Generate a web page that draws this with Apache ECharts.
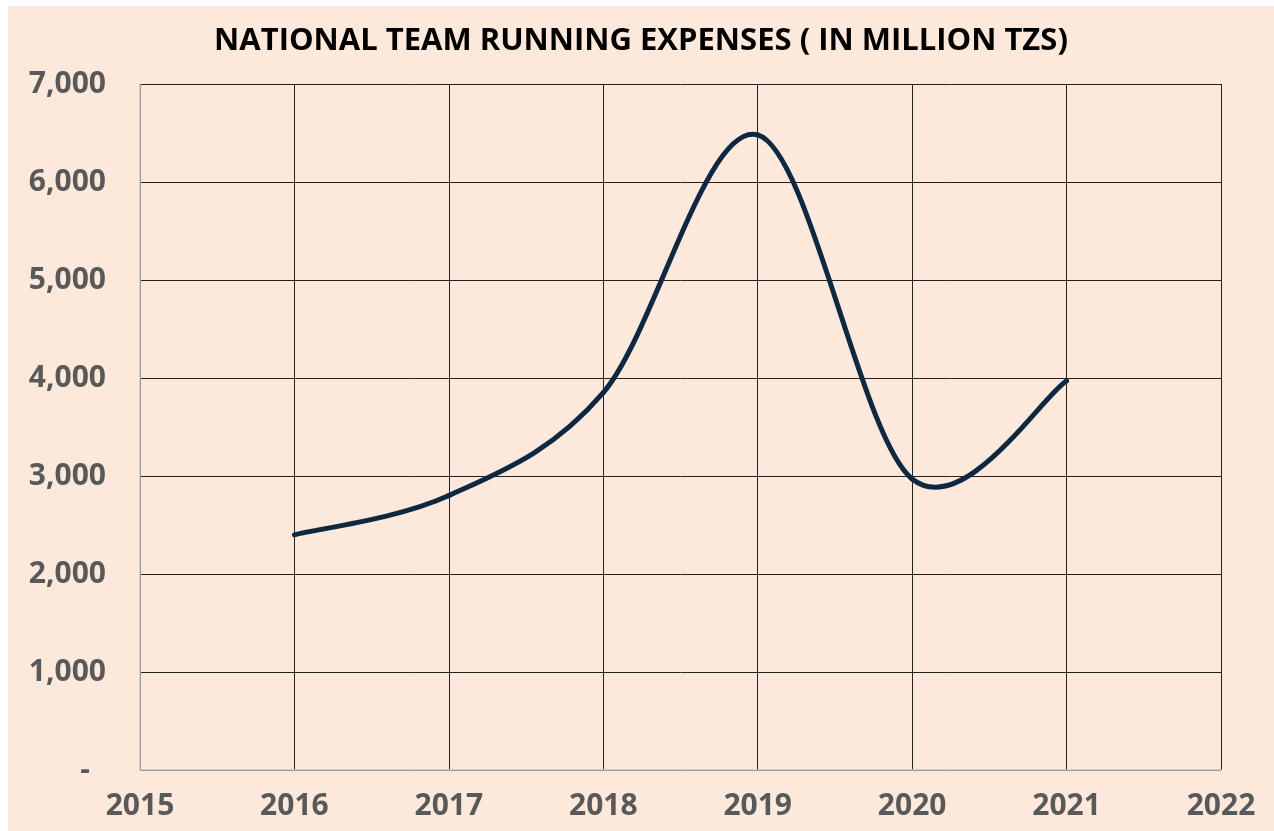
<!DOCTYPE html>
<html><head><meta charset="utf-8">
<script src="https://cdn.jsdelivr.net/npm/echarts@6/dist/echarts.min.js"></script>
<style>html,body{margin:0;padding:0;background:#ffffff;width:1274px;height:831px;overflow:hidden;}#c{position:absolute;left:8px;top:6px;width:1266px;height:825px;}</style>
</head><body><div id="c"></div>
<script>
const titleText = 'NATIONAL TEAM RUNNING EXPENSES ( IN MILLION TZS)';
const years = [2016, 2017, 2018, 2019, 2020, 2021];
const expenses = [2400, 2800, 3850, 6480, 2970, 3970];
const xTicks = [2015, 2016, 2017, 2018, 2019, 2020, 2021, 2022];
const yMax = 7000, yStep = 1000;

const chart = echarts.init(document.getElementById('c'));
const clampIdx = k => Math.max(0, Math.min(years.length - 1, k));
chart.setOption({
  backgroundColor: '#fde9dc',
  title: {
    text: titleText, left: 'center', top: 15,
    textStyle: {fontFamily: 'Open Sans', fontWeight: 'bold', fontSize: 31, color: '#000'}
  },
  grid: {left: 132, right: 53, top: 78, bottom: 61},
  xAxis: {
    type: 'value', min: xTicks[0], max: xTicks[xTicks.length - 1], interval: 1,
    axisLine: {show: true, lineStyle: {color: '#c4c4c4', width: 1.5}},
    axisTick: {show: false},
    splitLine: {show: true, lineStyle: {color: '#222', width: 1}},
    axisLabel: {margin: 21, color: '#595959', fontFamily: 'Open Sans', fontWeight: 'bold', fontSize: 30, formatter: v => String(v)}
  },
  yAxis: {
    type: 'value', min: 0, max: yMax, interval: yStep,
    axisLine: {show: true, lineStyle: {color: '#c4c4c4', width: 1.5}},
    axisTick: {show: false},
    splitLine: {show: true, lineStyle: {color: '#222', width: 1}},
    axisLabel: {margin: 34, color: '#595959', fontFamily: 'Open Sans', fontWeight: 'bold', fontSize: 30,
      formatter: v => v === 0 ? '{d|-}' : v.toLocaleString('en-US'),
      rich: {d: {padding: [0, 16, 0, 0], color: '#595959', fontFamily: 'Open Sans', fontWeight: 'bold', fontSize: 30}}}
  },
  series: [{
    type: 'custom',
    data: years.map((y, i) => [y, expenses[i]]),
    encode: {x: 0, y: 1},
    renderItem: function (params, api) {
      const i = params.dataIndex;
      if (i >= years.length - 1) return null;
      const p = k => api.coord([years[clampIdx(k)], expenses[clampIdx(k)]]);
      const p0 = p(i - 1), p1 = p(i), p2 = p(i + 1), p3 = p(i + 2);
      return {
        type: 'bezierCurve',
        shape: {
          x1: p1[0], y1: p1[1],
          cpx1: p1[0] + (p2[0] - p0[0]) / 6, cpy1: p1[1] + (p2[1] - p0[1]) / 6,
          cpx2: p2[0] - (p3[0] - p1[0]) / 6, cpy2: p2[1] - (p3[1] - p1[1]) / 6,
          x2: p2[0], y2: p2[1]
        },
        style: {stroke: '#0e2841', lineWidth: 5, fill: null, lineCap: 'round'}
      };
    }
  }]
});
</script></body></html>
